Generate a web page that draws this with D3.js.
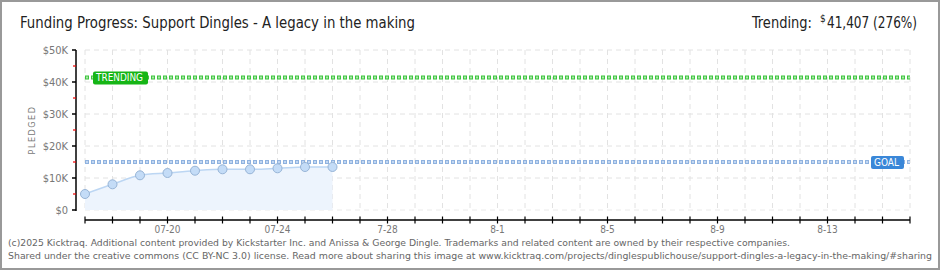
<!DOCTYPE html>
<html>
<head>
<meta charset="utf-8">
<script src="https://d3js.org/d3.v7.min.js"></script>
<style>
  body { margin: 0; background: #fff; }
  text { font-family: "DejaVu Sans Condensed", "DejaVu Sans", sans-serif; }
</style>
</head>
<body>
<svg id="chart" width="940" height="270"></svg>
<script>
// data
const dates = ["2025-07-17", "2025-07-18", "2025-07-19", "2025-07-20", "2025-07-21",
  "2025-07-22", "2025-07-23", "2025-07-24", "2025-07-25", "2025-07-26"];
const pledged = [5000, 8030, 10840, 11560, 12280, 12720, 12720, 13030, 13440, 13440];
const goal = 15000;
const trending = 41407;
const yTicks = [0, 10000, 20000, 30000, 40000, 50000];
const xLabelDates = ["2025-07-20", "2025-07-24", "2025-07-28", "2025-08-01", "2025-08-05", "2025-08-09", "2025-08-13"];
const xLabelText = ["07-20", "07-24", "7-28", "8-1", "8-5", "8-9", "8-13"];

const parse = d3.timeParse("%Y-%m-%d");
const svg = d3.select("#chart");

const x = d3.scaleTime()
  .domain([parse("2025-07-17"), parse("2025-08-16")])
  .range([85, 910]);
const y = d3.scaleLinear().domain([0, 50000]).range([210, 50]);

// frame
svg.append("rect").attr("x", 1).attr("y", 1).attr("width", 938).attr("height", 268)
  .attr("fill", "#fff").attr("stroke", "#999").attr("stroke-width", 2);

// title
svg.append("text").attr("x", 20).attr("y", 28)
  .attr("font-size", 16).attr("fill", "#222")
  .attr("textLength", 395).attr("lengthAdjust", "spacingAndGlyphs")
  .text("Funding Progress: Support Dingles - A legacy in the making");

svg.append("text").attr("x", 752).attr("y", 28)
  .attr("font-size", 16).attr("fill", "#222")
  .attr("textLength", 60).attr("lengthAdjust", "spacingAndGlyphs")
  .text("Trending:");
svg.append("text").attr("x", 820).attr("y", 22)
  .attr("font-size", 10).attr("fill", "#222").text("$");
svg.append("text").attr("x", 827).attr("y", 28)
  .attr("font-size", 16).attr("fill", "#222")
  .attr("textLength", 90).attr("lengthAdjust", "spacingAndGlyphs")
  .text(d3.format(",")(trending) + " (276%)");

// grid
const days = d3.timeDay.range(parse("2025-07-17"), d3.timeDay.offset(parse("2025-08-16"), 1));
svg.append("g").selectAll("line").data(days).join("line")
  .attr("x1", d => x(d)).attr("x2", d => x(d))
  .attr("y1", 50).attr("y2", 210)
  .attr("stroke", "#e2e2e2").attr("stroke-dasharray", "5,4");
svg.append("g").selectAll("line").data(yTicks.slice(1)).join("line")
  .attr("x1", 85).attr("x2", 910)
  .attr("y1", d => y(d)).attr("y2", d => y(d))
  .attr("stroke", "#e2e2e2").attr("stroke-dasharray", "5,4");
svg.append("line").attr("x1", 85).attr("x2", 910).attr("y1", 210).attr("y2", 210)
  .attr("stroke", "#eaeaea").attr("stroke-dasharray", "5,4");

// area + line
const pts = dates.map((d, i) => ({ date: parse(d), v: pledged[i] }));
svg.append("path").datum(pts)
  .attr("d", d3.area().x(d => x(d.date)).y0(y(0)).y1(d => y(d.v)).curve(d3.curveMonotoneX))
  .attr("fill", "#edf4fd");
svg.append("path").datum(pts)
  .attr("d", d3.line().x(d => x(d.date)).y(d => y(d.v)).curve(d3.curveMonotoneX))
  .attr("fill", "none").attr("stroke", "#bcd6f3").attr("stroke-width", 1.5);

// dotted reference lines
function dotted(val, dark, light) {
  svg.append("line").attr("x1", 85).attr("x2", 910).attr("y1", y(val)).attr("y2", y(val))
    .attr("stroke", dark).attr("stroke-width", 4).attr("stroke-dasharray", "4,2");
  svg.append("line").attr("x1", 85).attr("x2", 910).attr("y1", y(val)).attr("y2", y(val))
    .attr("stroke", light).attr("stroke-width", 2).attr("stroke-dasharray", "2,4")
    .attr("stroke-dashoffset", -1);
}
dotted(goal, "#8fb2df", "#c2d7f2");
dotted(trending, "#3fc43f", "#a8eaa8");

// points
svg.append("g").selectAll("circle").data(pts).join("circle")
  .attr("cx", d => x(d.date)).attr("cy", d => y(d.v)).attr("r", 4.5)
  .attr("fill", "#c4dcf7").attr("stroke", "#97b4d6").attr("stroke-width", 1);

// labels on the reference lines
function tag(x0, w, val, fill, label) {
  svg.append("rect").attr("x", x0).attr("y", y(val) - 6).attr("width", w).attr("height", 13)
    .attr("rx", 2).attr("fill", fill);
  svg.append("text").attr("x", x0 + 3).attr("y", y(val) + 4)
    .attr("font-size", 10).attr("fill", "#fff")
    .attr("textLength", w - 8).attr("lengthAdjust", "spacingAndGlyphs")
    .text(label);
}
tag(93, 55, trending, "#16b516", "TRENDING");
tag(871, 33, goal, "#3a87d8", "GOAL");

// y axis
svg.append("line").attr("x1", 76).attr("x2", 76).attr("y1", 50).attr("y2", 211)
  .attr("stroke", "#000").attr("stroke-width", 1.5);
svg.append("g").selectAll("line").data(yTicks).join("line")
  .attr("x1", 72).attr("x2", 76).attr("y1", d => y(d)).attr("y2", d => y(d))
  .attr("stroke", "#000").attr("stroke-width", 1.5);
svg.append("g").selectAll("line").data(yTicks.slice(0, -1)).join("line")
  .attr("x1", 73).attr("x2", 76).attr("y1", d => y(d + 5000)).attr("y2", d => y(d + 5000))
  .attr("stroke", "#e00").attr("stroke-width", 1.2);
svg.append("g").selectAll("text").data(yTicks).join("text")
  .attr("x", 68).attr("y", d => y(d) + 4).attr("text-anchor", "end")
  .attr("font-size", 11).attr("fill", "#777")
  .text(d => d === 0 ? "$0" : "$" + d / 1000 + "K");
svg.append("text").attr("transform", "translate(35,130) rotate(-90)")
  .attr("text-anchor", "middle").attr("font-size", 9).attr("fill", "#777")
  .attr("letter-spacing", 1.5).text("PLEDGED");

// x axis
svg.append("line").attr("x1", 85).attr("x2", 910).attr("y1", 220).attr("y2", 220)
  .attr("stroke", "#000").attr("stroke-width", 1.5);
svg.append("g").selectAll("line").data(days).join("line")
  .attr("x1", d => x(d)).attr("x2", d => x(d)).attr("y1", 216.5).attr("y2", 223.5)
  .attr("stroke", "#000").attr("stroke-width", 1.2);
svg.append("g").selectAll("text").data(xLabelDates).join("text")
  .attr("x", d => x(parse(d))).attr("y", 233).attr("text-anchor", "middle")
  .attr("font-size", 10).attr("fill", "#777")
  .text((d, i) => xLabelText[i]);

// footer
svg.append("text").attr("x", 8).attr("y", 246).attr("font-size", 9.5).attr("fill", "#666")
  .attr("textLength", 782).attr("lengthAdjust", "spacingAndGlyphs")
  .text("(c)2025 Kicktraq. Additional content provided by Kickstarter Inc. and Anissa & George Dingle. Trademarks and related content are owned by their respective companies.");
svg.append("text").attr("x", 8).attr("y", 259).attr("font-size", 9.5).attr("fill", "#666")
  .attr("textLength", 924).attr("lengthAdjust", "spacingAndGlyphs")
  .text("Shared under the creative commons (CC BY-NC 3.0) license. Read more about sharing this image at www.kicktraq.com/projects/dinglespublichouse/support-dingles-a-legacy-in-the-making/#sharing");
</script>
</body>
</html>
